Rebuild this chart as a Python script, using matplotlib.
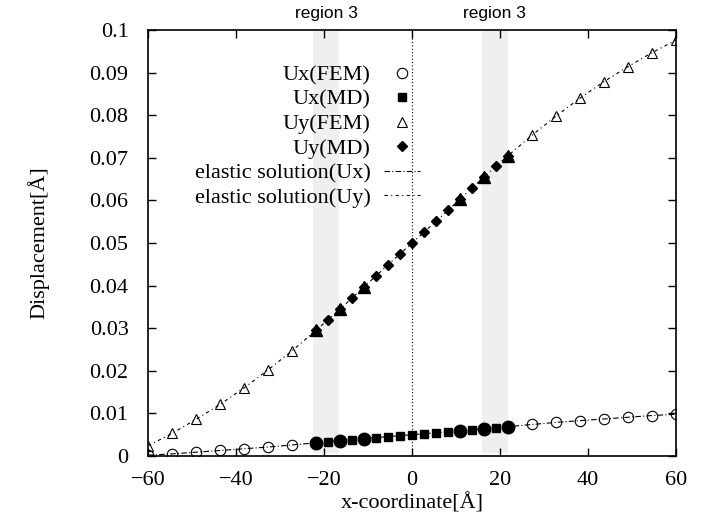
import numpy as np
import matplotlib
matplotlib.use("Agg")
from matplotlib import pyplot as plt

# FEM nodes
x_fem = [-60, -54.55, -49.09, -43.64, -38.18, -32.73, -27.27, -21.82, -16.36, -10.91,
         10.91, 16.36, 21.82, 27.27, 32.73, 38.18, 43.64, 49.09, 54.55, 60]
ux_fem = [0.0002, 0.0005, 0.0009, 0.0013, 0.0017, 0.0021, 0.0026, 0.0031, 0.0036, 0.0041,
          0.0059, 0.0064, 0.0069, 0.0074, 0.0079, 0.0083, 0.0087, 0.0091, 0.0095, 0.0098]
uy_fem = [0.0024, 0.0053, 0.0086, 0.0121, 0.0160, 0.0202, 0.0247, 0.0295, 0.0345, 0.0397,
          0.0603, 0.0655, 0.0705, 0.0753, 0.0798, 0.0840, 0.0879, 0.0914, 0.0947, 0.0976]

# MD atoms
x_md = [-21.82, -19.09, -16.36, -13.64, -10.91, -8.18, -5.45, -2.73, 0,
        2.73, 5.45, 8.18, 10.91, 13.64, 16.36, 19.09, 21.82]
ux_md = [0.0031, 0.00334, 0.00358, 0.00381, 0.00405, 0.00429, 0.00452, 0.00476, 0.0050,
         0.00524, 0.00548, 0.00571, 0.00595, 0.00619, 0.00642, 0.00666, 0.0069]
uy_md = [0.0295, 0.0320, 0.0346, 0.0371, 0.0397, 0.0423, 0.0449, 0.0474, 0.0500,
         0.0526, 0.0551, 0.0577, 0.0603, 0.0629, 0.0654, 0.0680, 0.0705]

# elastic solution
x_el = [-60, -54.55, -49.09, -43.64, -38.18, -32.73, -27.27, -21.82, -16.36, -10.91, -5.45, 0,
        5.45, 10.91, 16.36, 21.82, 27.27, 32.73, 38.18, 43.64, 49.09, 54.55, 60]
ux_el = [0.0002, 0.0005, 0.0009, 0.0013, 0.0017, 0.0021, 0.0026, 0.0031, 0.0036, 0.0041, 0.00455, 0.0050,
         0.00545, 0.0059, 0.0064, 0.0069, 0.0074, 0.0079, 0.0083, 0.0087, 0.0091, 0.0095, 0.0098]
uy_el = [0.0024, 0.0053, 0.0086, 0.0121, 0.0160, 0.0202, 0.0247, 0.0295, 0.0345, 0.0397, 0.0449, 0.0500,
         0.0551, 0.0603, 0.0655, 0.0705, 0.0753, 0.0798, 0.0840, 0.0879, 0.0914, 0.0947, 0.0976]

regions = [(-22.5, -16.5), (15.8, 21.8)]
region_labels = ["region 3", "region 3"]
xticks = [-60, -40, -20, 0, 20, 40, 60]
yticks = [0, 0.01, 0.02, 0.03, 0.04, 0.05, 0.06, 0.07, 0.08, 0.09, 0.1]
ytick_labels = ["0", "0.01", "0.02", "0.03", "0.04", "0.05", "0.06", "0.07", "0.08", "0.09", "0.1"]

plt.rcParams['font.family'] = ['Liberation Serif', 'DejaVu Serif']
fig = plt.figure(figsize=(7.2, 5.22), dpi=100)
ax = fig.add_axes([0.2056, 0.1264, 0.7333, 0.8161])

for (a, b), lab in zip(regions, region_labels):
    ax.axvspan(a, b, ymin=0.007, ymax=1, color='#efefef', lw=0, zorder=0)
    ax.text((a + b) / 2, 1.02, lab, transform=ax.get_xaxis_transform(), ha='center', va='bottom',
            fontsize=12.5, family='Liberation Sans')
ax.axvline(0, color='k', lw=0.8, ls=(0, (1, 2)), zorder=1)

x_fem = np.array(x_fem)
inside = np.abs(x_fem) < 22
ax.plot(x_fem, ux_fem, ls='none', marker='o', ms=7.5, mfc='none', mec='k', mew=0.8, label='Ux(FEM)', zorder=3)
ax.plot(x_md, ux_md, ls='none', marker='s', ms=5.5, color='k', label='Ux(MD)', zorder=4)
ax.plot(x_fem, uy_fem, ls='none', marker='^', ms=7.5, mfc='none', mec='k', mew=0.8, label='Uy(FEM)', zorder=3)
ax.plot(x_md, uy_md, ls='none', marker='D', ms=5, color='k', label='Uy(MD)', zorder=4)
ax.plot(x_fem[inside], np.array(ux_fem)[inside], ls='none', marker='o', ms=9, color='k', zorder=5)
ax.plot(x_fem[inside], np.array(uy_fem)[inside], ls='none', marker='^', ms=8, color='k', zorder=5)
ax.plot(x_el, ux_el, color='k', lw=0.8, dashes=(5, 2, 1, 2), label='elastic solution(Ux)', zorder=2)
ax.plot(x_el, uy_el, color='k', lw=0.8, dashes=(3, 3, 1, 3), label='elastic solution(Uy)', zorder=2)

ax.set_xlim(-60, 60)
ax.set_ylim(0, 0.1)
ax.set_xticks(xticks)
ax.set_yticks(yticks)
ax.set_yticklabels(ytick_labels)
ax.tick_params(direction='in', length=6, width=1, labelsize=16, top=True, right=True)
ax.tick_params(axis='y', pad=14)
ax.tick_params(axis='x', pad=11)
for s in ax.spines.values():
    s.set_linewidth(1.2)

ax.set_xlabel('x-coordinate[Å]', fontsize=16, labelpad=2)
ax.set_ylabel('Displacement[Å]', fontsize=16, labelpad=29)

ax.legend(loc='upper right', bbox_to_anchor=(0.548, 0.96), frameon=False, fontsize=16, markerfirst=False,
          handlelength=1.6, handletextpad=0.6, labelspacing=0.18, borderpad=0.3)

fig.savefig('out.png', dpi=100)
